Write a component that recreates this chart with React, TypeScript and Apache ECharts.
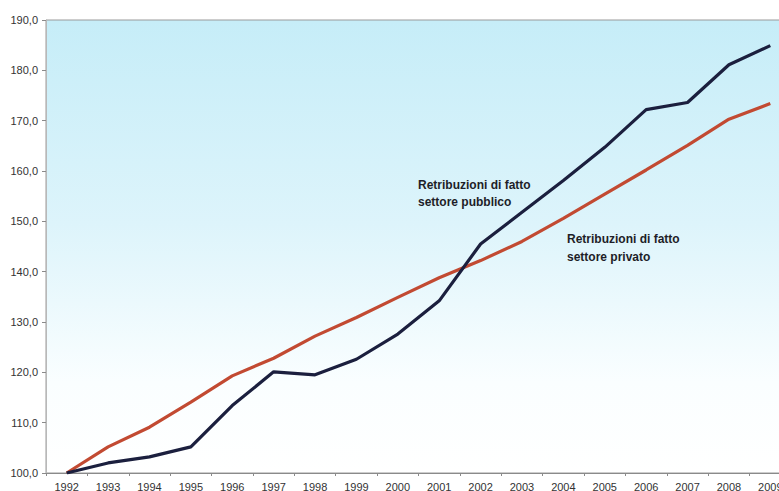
import React, { useEffect, useRef } from "react";
import * as echarts from "echarts";

const years = ["1992", "1993", "1994", "1995", "1996", "1997", "1998", "1999", "2000", "2001", "2002", "2003", "2004", "2005", "2006", "2007", "2008", "2009"];
const publicSector = [100, 102.0, 103.2, 105.2, 113.4, 120.1, 119.5, 122.6, 127.6, 134.2, 145.5, 151.8, 158.1, 164.7, 172.2, 173.6, 181.1, 184.9];
const privateSector = [100, 105.2, 109.1, 114.1, 119.3, 122.8, 127.2, 130.9, 134.9, 138.8, 142.2, 146.0, 150.6, 155.4, 160.2, 165.1, 170.3, 173.4];
const labelPublic = ["Retribuzioni di fatto", "settore pubblico"];
const labelPrivate = ["Retribuzioni di fatto", "settore privato"];

export default function App() {
  const ref = useRef<HTMLDivElement>(null);
  useEffect(() => {
    if (!ref.current) return;
    const chart = echarts.init(ref.current, null, { renderer: "svg" });
    const font = "Liberation Sans, Arial, sans-serif";
    chart.setOption({
      animation: false,
      backgroundColor: "#ffffff",
      grid: {
        left: 46,
        width: 745,
        top: 20,
        height: 453,
        outerBoundsMode: "none",
        containLabel: false,
        show: true,
        borderColor: "#9a9a9a",
        borderWidth: 1,
        backgroundColor: new echarts.graphic.LinearGradient(0, 0, 0, 1, [
          { offset: 0, color: "#c6edf8" },
          { offset: 0.45, color: "#ddf4fb" },
          { offset: 0.8, color: "#fafeff" },
          { offset: 1, color: "#ffffff" },
        ]),
      },
      xAxis: {
        type: "category",
        data: years,
        boundaryGap: true,
        axisLine: { lineStyle: { color: "#8a8a8a", width: 1 } },
        axisTick: { show: true, length: 3, lineStyle: { color: "#8a8a8a" } },
        axisLabel: { color: "#333", fontSize: 11, fontFamily: font, margin: 8, interval: 0 },
        splitLine: { show: false },
      },
      yAxis: {
        type: "value",
        min: 100,
        max: 190,
        interval: 10,
        axisLine: { show: true, lineStyle: { color: "#b8b8b8", width: 1 } },
        axisTick: { show: true, length: 4, lineStyle: { color: "#8a8a8a" } },
        axisLabel: {
          color: "#333",
          fontSize: 11,
          fontFamily: font,
          margin: 8,
          formatter: (v: number) => v.toFixed(1).replace(".", ","),
        },
        splitLine: { show: false },
      },
      series: [
        {
          name: "pubblico",
          type: "line",
          data: publicSector,
          symbol: "none",
          lineStyle: { color: "#1b1f3e", width: 3.2 },
          z: 3,
        },
        {
          name: "privato",
          type: "line",
          data: privateSector,
          symbol: "none",
          lineStyle: { color: "#c24a32", width: 3.2 },
          z: 2,
        },
      ],
      graphic: [
        {
          type: "text",
          left: 418,
          top: 176,
          style: {
            text: labelPublic.join("\n"),
            font: "bold 12px " + font,
            lineHeight: 17,
            fill: "#1e1e28",
          },
        },
        {
          type: "text",
          left: 567,
          top: 230,
          style: {
            text: labelPrivate.join("\n"),
            font: "bold 12px " + font,
            lineHeight: 18,
            fill: "#1e1e28",
          },
        },
      ],
    });
    return () => chart.dispose();
  }, []);
  return (
    <div
      ref={ref}
      style={{ position: "fixed", left: 0, top: 0, width: 779, height: 491 }}
    />
  );
}
